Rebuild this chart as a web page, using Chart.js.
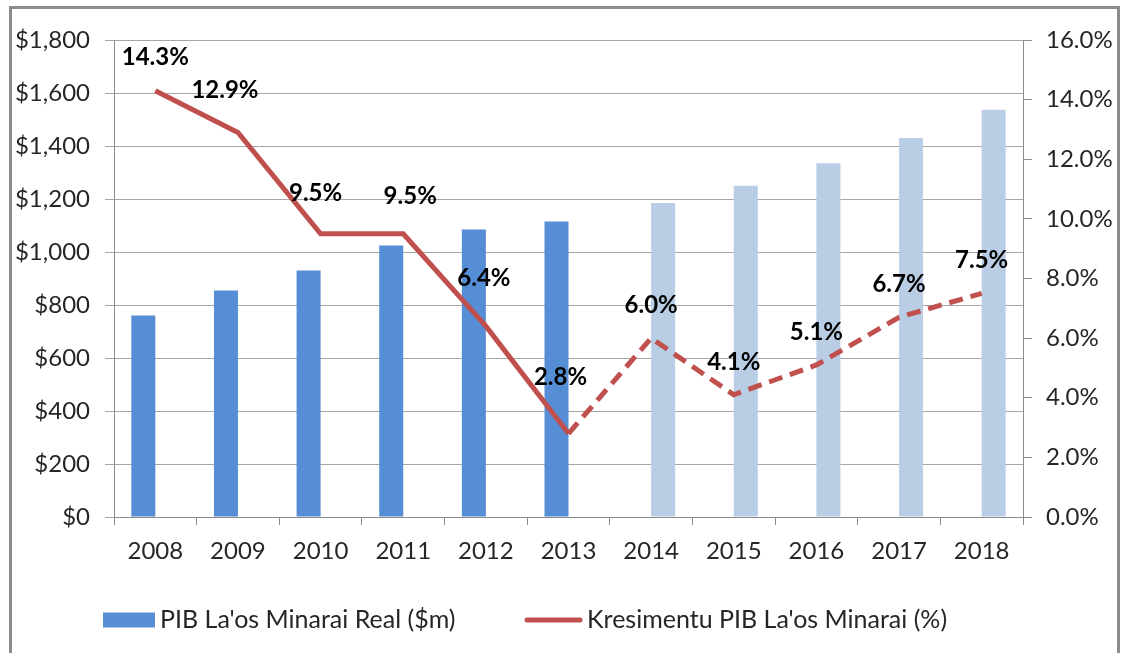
<!DOCTYPE html>
<html><head><meta charset="utf-8">
<script src="https://cdn.jsdelivr.net/npm/chart.js@4/dist/chart.umd.min.js"></script>
<style>
html,body{margin:0;padding:0;background:#fff;}
#wrap{position:relative;width:1122px;height:653px;overflow:hidden;background:#fff;}
#frame{position:absolute;left:9px;top:6px;width:1111px;height:700px;border:3px solid #8c8c8c;box-sizing:border-box;}
canvas{position:absolute;left:0;top:0;}
</style></head><body>
<div id="wrap"><div id="frame"></div><canvas id="c" width="1122" height="653"></canvas></div>
<script>
const years = ['2008','2009','2010','2011','2012','2013','2014','2015','2016','2017','2018'];
const gdpActual = [760, 855, 930, 1025, 1085, 1115, null, null, null, null, null];
const gdpProjected = [null, null, null, null, null, null, 1185, 1250, 1335, 1430, 1537];
const growth = [14.3, 12.9, 9.5, 9.5, 6.4, 2.8, 6.0, 4.1, 5.1, 6.7, 7.5];
const leftTicks = [0, 200, 400, 600, 800, 1000, 1200, 1400, 1600, 1800];
const rightTicks = [0, 2, 4, 6, 8, 10, 12, 14, 16];
const legendNames = ["PIB La'os Minarai Real ($m)", "Kresimentu PIB La'os Minarai (%)"];
const lastActualIndex = 5;

const FONT = 'Lato, "Open Sans", sans-serif';
const DARK = '#558ED5', LIGHT = '#B9CDE5', RED = '#C0504D';
const GRID = '#A6A6A6', AXIS = '#8C8C8C', TXT = '#262626';

// label nudges (style only): [dx, dy above point]
const labelNudge = [[0,33],[-13,42],[-5,41],[7,38],[-2,48],[-8,56],[0,33],[0,33],[0,33],[0,33],[0,33]];

const labelPlugin = {
  id: 'pctLabels',
  afterDatasetsDraw(chart) {
    const meta = chart.getDatasetMeta(2);
    const ctx = chart.ctx;
    ctx.save();
    ctx.font = 'bold 24px ' + FONT;
    ctx.fillStyle = '#000';
    ctx.textAlign = 'center';
    ctx.textBaseline = 'middle';
    meta.data.forEach((pt, i) => {
      const n = labelNudge[i] || [0,33];
      ctx.fillText(growth[i].toFixed(1) + '%', pt.x + n[0], pt.y - n[1]);
    });
    ctx.restore();
  }
};

const legendPlugin = {
  id: 'customLegend',
  afterDraw(chart) {
    const ctx = chart.ctx;
    const y = 620;
    ctx.save();
    ctx.fillStyle = DARK;
    ctx.fillRect(103, y - 7.5, 52, 15);
    ctx.strokeStyle = RED;
    ctx.lineWidth = 5;
    ctx.lineCap = 'round';
    ctx.beginPath(); ctx.moveTo(527, y); ctx.lineTo(580, y); ctx.stroke();
    ctx.font = '25px ' + FONT;
    ctx.fillStyle = TXT;
    ctx.textAlign = 'left';
    ctx.textBaseline = 'middle';
    ctx.fillText(legendNames[0], 160, y);
    ctx.fillText(legendNames[1], 587, y);
    ctx.restore();
  }
};

new Chart(document.getElementById('c'), {
  type: 'bar',
  data: {
    labels: years,
    datasets: [
      { label: legendNames[0], data: gdpActual, backgroundColor: DARK, yAxisID: 'y',
        categoryPercentage: 0.581, barPercentage: 1.0, order: 2 },
      { label: 'proj', data: gdpProjected, backgroundColor: LIGHT, yAxisID: 'y',
        categoryPercentage: 0.581, barPercentage: 1.0, order: 2 },
      { type: 'line', label: legendNames[1], data: growth, yAxisID: 'y1',
        borderColor: RED, borderWidth: 5, pointRadius: 0, tension: 0, fill: false,
        borderJoinStyle: 'miter', order: 1,
        segment: { borderDash: c => c.p0DataIndex >= lastActualIndex ? [14, 8] : undefined } }
    ]
  },
  options: {
    responsive: false,
    animation: false,
    devicePixelRatio: 1,
    layout: { padding: { top: 40, left: 0, right: 0, bottom: 0 } },
    plugins: { legend: { display: false }, tooltip: { enabled: false } },
    scales: {
      x: {
        offset: true,
        grid: { offset: true, drawOnChartArea: false, drawTicks: true, tickLength: 8, color: AXIS },
        border: { color: AXIS, width: 1 },
        ticks: { font: { family: FONT, size: 24 }, color: TXT, padding: 12, maxRotation: 0 },
        afterFit: s => { s.height = 136; }
      },
      y: {
        position: 'left', min: 0, max: 1800,
        afterBuildTicks: s => { s.ticks = leftTicks.map(v => ({ value: v })); },
        grid: { color: GRID, tickLength: 9 },
        border: { color: AXIS, width: 1 },
        ticks: { font: { family: FONT, size: 24 }, color: TXT, padding: 15,
          callback: v => '$' + Number(v).toLocaleString('en-US') },
        afterFit: s => { s.width = 114; }
      },
      y1: {
        position: 'right', min: 0, max: 16,
        afterBuildTicks: s => { s.ticks = rightTicks.map(v => ({ value: v })); },
        grid: { drawOnChartArea: false, color: AXIS, tickLength: 9 },
        border: { color: AXIS, width: 1 },
        ticks: { font: { family: FONT, size: 24 }, color: TXT, padding: 14,
          callback: v => Number(v).toFixed(1) + '%' },
        afterFit: s => { s.width = 99; }
      }
    }
  },
  plugins: [labelPlugin, legendPlugin]
});
</script>
</body></html>
